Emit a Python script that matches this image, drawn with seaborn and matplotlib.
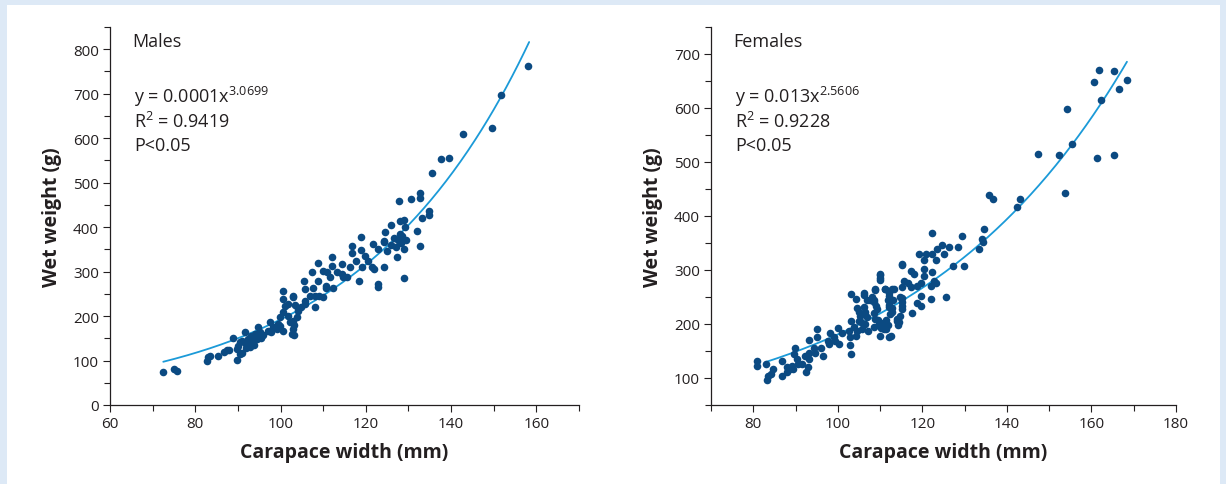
import numpy as np
import pandas as pd
import seaborn as sns
from matplotlib import pyplot as plt
from matplotlib.patches import Rectangle
from matplotlib.ticker import MultipleLocator

# Males: carapace width (mm) and wet weight (g)
males_width = [72.4, 75.0, 75.7, 82.7, 83.0, 83.4, 85.3, 86.7, 87.4, 87.9, 88.8, 89.7, 89.7, 90.0,
               90.4, 91.0, 91.6, 91.8, 92.3, 92.8, 93.5, 94.4, 94.7, 95.1, 93.0, 92.0, 91.0, 90.5,
               93.8, 94.0, 95.5, 96.0, 97.0, 97.5, 97.7, 98.2, 99.1, 99.3, 99.8, 100.5, 100.5, 101.0,
               101.7, 102.9, 99.8, 100.5, 101.7, 102.2, 102.9, 103.8, 100.5, 102.6, 103.1, 104.0,
               104.9, 105.7, 105.7, 105.4, 102.9, 103.3, 104.0, 103.0, 103.2, 105.7, 106.8, 108.0,
               109.0, 110.0, 108.0, 107.5, 108.7, 107.3, 108.7, 109.9, 110.8, 110.6, 110.6, 111.5,
               112.0, 112.0, 112.2, 113.2, 114.3, 114.3, 114.6, 115.7, 116.2, 116.7, 116.7, 117.8,
               118.5, 118.8, 118.8, 119.0, 119.7, 120.4, 121.4, 121.6, 122.0, 122.8, 122.8, 122.8,
               124.2, 124.2, 124.6, 124.2, 125.0, 125.8, 126.0, 126.5, 127.2, 127.0, 127.5, 127.7,
               127.9, 128.0, 128.2, 128.5, 128.9, 128.9, 129.0, 129.3, 129.5, 130.7, 132.1, 132.8,
               132.8, 132.8, 133.1, 134.7, 134.7, 135.6, 137.7, 139.6, 142.9, 149.7, 151.8, 158.1]
males_weight = [74, 81, 76, 99, 108, 110, 110, 119, 124, 124, 150, 101, 126, 133,
                142, 144, 164, 137, 148, 130, 142, 148, 175, 164, 155, 128, 118, 115,
                135, 160, 150, 158, 166, 187, 164, 175, 171, 182, 178, 256, 238, 222,
                227, 243, 198, 209, 200, 187, 189, 198, 166, 160, 157, 211,
                220, 227, 261, 279, 245, 225, 215, 172, 180, 234, 245, 245,
                244, 243, 220, 263, 279, 299, 319, 301, 299, 267, 263, 288,
                312, 333, 263, 299, 317, 294, 288, 288, 310, 357, 341, 324,
                279, 377, 348, 310, 335, 324, 310, 362, 306, 351, 272, 265,
                367, 310, 389, 368, 346, 405, 360, 375, 333, 355, 370, 458,
                413, 385, 365, 380, 416, 285, 350, 400, 372, 463, 391, 476,
                465, 357, 420, 436, 427, 521, 553, 555, 609, 622, 697, 762]

# Females
females_width = [161.9, 165.4, 160.5, 168.4, 166.5, 162.3, 154.3, 155.3, 147.4, 152.3, 161.4, 165.4,
                 153.8, 143.2, 142.3, 135.7, 136.8, 134.6, 134.2, 134.4, 133.4, 129.3, 128.4, 129.8,
                 127.3, 122.4, 124.7, 126.3, 123.4, 125.1, 119.1, 120.8, 122.2, 120.3, 123.2, 115.1,
                 117.3, 118.0, 120.3, 122.4, 120.4, 110.0, 110.0, 122.8, 123.2, 122.0, 115.7, 119.6,
                 118.8, 117.3, 125.5, 122.1, 111.2, 112.9, 108.8, 115.1, 116.7, 119.6, 118.8, 119.6,
                 117.5, 114.7, 114.1, 115.3, 115.3, 113.1, 112.2, 112.2, 112.9, 112.9, 112.2, 106.2,
                 107.0, 108.5, 109.0, 104.6, 105.2, 105.0, 106.4, 108.6, 109.4, 110.2, 111.4, 111.8,
                 111.0, 108.6, 110.2,
                 80.9, 80.9, 83.0, 83.3, 83.5, 84.1, 84.7, 86.7, 86.9, 87.9, 88.1, 88.7,
                 89.9, 89.7, 90.3, 90.7, 89.5, 89.1, 91.5, 92.4, 92.9, 92.3, 93.1, 93.2,
                 93.1, 94.3, 94.7, 95.2, 95.1, 96.0, 96.4, 98.2, 97.6, 98.0, 99.0, 99.4,
                 100.0, 100.2, 101.0, 102.6, 103.1, 104.2, 103.1, 102.9, 102.9, 103.1, 103.8, 104.2,
                 104.5, 105.1, 105.6, 105.7, 106.1, 106.1, 106.5, 106.9, 107.1, 107.7, 108.1, 108.5,
                 108.9, 109.3, 108.9, 109.7, 110.5, 110.9, 110.1, 110.1, 110.1, 111.1, 111.3, 111.9,
                 112.1, 112.3, 112.1, 112.5, 113.3, 114.1, 114.5, 114.3, 114.8, 115.2, 115.2, 115.1]
females_weight = [671, 668, 649, 652, 635, 615, 598, 534, 515, 513, 507, 513,
                  443, 431, 417, 439, 432, 375, 357, 351, 338, 363, 343, 308,
                  307, 369, 347, 343, 339, 329, 330, 329, 329, 318, 318, 311,
                  298, 292, 302, 296, 288, 293, 285, 279, 276, 270, 279, 276,
                  270, 268, 250, 247, 265, 265, 264, 268, 275, 252, 239, 233,
                  221, 214, 205, 233, 248, 245, 257, 251, 230, 223, 236, 257,
                  245, 245, 233, 230, 215, 205, 200, 220, 208, 202, 208, 199,
                  192, 195, 192,
                  132, 122, 126, 96, 104, 108, 117, 103, 132, 121, 112, 116,
                  156, 144, 135, 125, 116, 122, 125, 112, 121, 141, 135, 147,
                  171, 156, 147, 191, 176, 156, 140, 184, 169, 163, 175, 169,
                  192, 163, 184, 187, 255, 247, 206, 175, 161, 145, 194, 178,
                  187, 222, 203, 191, 253, 231, 222, 213, 187, 244, 250, 241,
                  263, 228, 210, 200, 197, 191, 291, 281, 178, 264, 191, 244,
                  231, 219, 175, 178, 264, 210, 203, 199, 250, 241, 228, 310]

# Trend curves as drawn in the figure: a, k, x start, x end (y = a * exp(k * x))
males_trend = [16.1, 0.0248, 72.5, 158.3]
females_trend = [25.7, 0.0195, 83.0, 168.4]

males_text = ['Males', 'y = 0.0001x$\\mathregular{^{3.0699}}$', 'R$\\mathregular{^2}$ = 0.9419', 'P<0.05']
females_text = ['Females', 'y = 0.013x$\\mathregular{^{2.5606}}$', 'R$\\mathregular{^2}$ = 0.9228', 'P<0.05']

sns.set_style('ticks')
plt.rcParams['font.family'] = ['Open Sans', 'DejaVu Sans']
plt.rcParams['mathtext.default'] = 'regular'

dot_color = '#0b4a82'
line_color = '#1b9ad8'
ink = '#231f20'

fig = plt.figure(figsize=(12.26, 4.85), dpi=100, facecolor='#dde9f6')
fig.patches.append(Rectangle((7 / 1226, 0), 1213 / 1226, 1 - 6 / 485, transform=fig.transFigure,
                             facecolor='white', edgecolor='none', zorder=-10))

ax1 = fig.add_axes([0.0897, 0.1629, 0.3826, 0.7794])
ax2 = fig.add_axes([0.5799, 0.1629, 0.3793, 0.7794])


def draw_panel(ax, width, weight, trend, texts, xlim, ylim):
    df = pd.DataFrame({'width': width, 'weight': weight})
    curve_x = np.linspace(trend[2], trend[3], 300)
    curve = pd.DataFrame({'width': curve_x, 'weight': trend[0] * np.exp(trend[1] * curve_x)})
    sns.lineplot(data=curve, x='width', y='weight', ax=ax, color=line_color, linewidth=1.3, zorder=2)
    sns.scatterplot(data=df, x='width', y='weight', ax=ax, color=dot_color, s=30,
                    linewidth=0, zorder=3)

    ax.set_xlim(xlim)
    ax.set_ylim(ylim)
    ax.xaxis.set_major_locator(MultipleLocator(20))
    ax.xaxis.set_minor_locator(MultipleLocator(10))
    ax.yaxis.set_major_locator(MultipleLocator(100))
    ax.yaxis.set_minor_locator(MultipleLocator(50))
    ax.tick_params(which='major', length=5, width=0.8, color=ink, labelsize=11, labelcolor=ink, pad=3)
    ax.tick_params(which='minor', length=4.5, width=0.8, color=ink)
    sns.despine(ax=ax)
    for side in ['left', 'bottom']:
        ax.spines[side].set_linewidth(0.9)
        ax.spines[side].set_color(ink)
    ax.set_facecolor('none')

    ax.set_xlabel('Carapace width (mm)', fontsize=14, fontweight='bold', color=ink, labelpad=8)
    ax.set_ylabel('Wet weight (g)', fontsize=14, fontweight='bold', color=ink, labelpad=8)

    ax.text(0.047, 0.963, texts[0], transform=ax.transAxes, fontsize=13, color=ink, va='center')
    for i, t in enumerate(texts[1:]):
        ax.text(0.052, 0.817 - i * 0.065, t, transform=ax.transAxes, fontsize=13, color=ink,
                va='center')


draw_panel(ax1, males_width, males_weight, males_trend, males_text, (60, 170), (0, 850))
draw_panel(ax2, females_width, females_weight, females_trend, females_text, (70, 180), (50, 750))

fig.savefig('out.png', dpi=100, facecolor=fig.get_facecolor())
